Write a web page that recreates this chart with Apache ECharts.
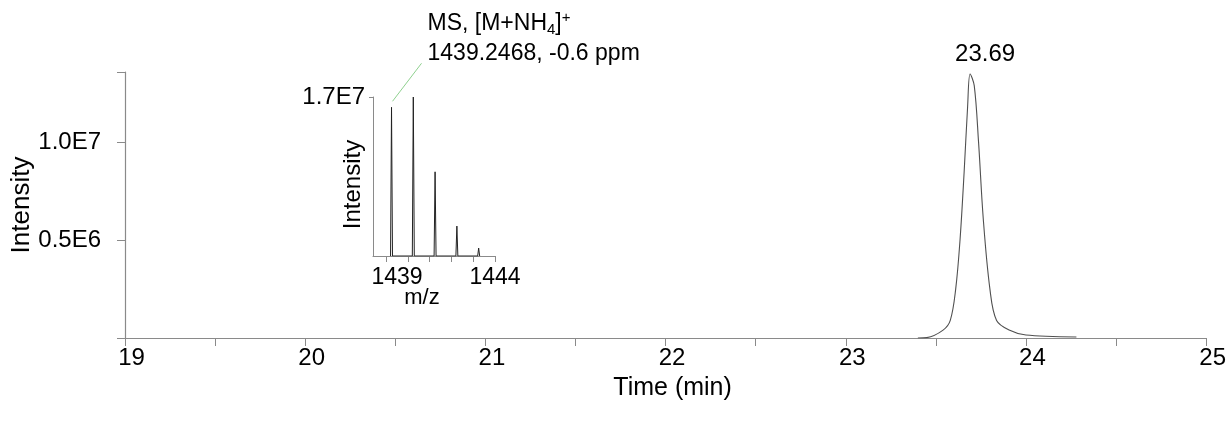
<!DOCTYPE html>
<html>
<head>
<meta charset="utf-8">
<script src="https://cdn.jsdelivr.net/npm/echarts@6/dist/echarts.min.js"></script>
<style>html,body{margin:0;padding:0;background:#fff}#c{width:1229px;height:422px}</style>
</head>
<body>
<div id="c"></div>
<script>
// Chromatogram (time in min, intensity)
const timeMin   = [23.40, 23.45, 23.54, 23.58, 23.61, 23.634, 23.657, 23.676, 23.69, 23.713, 23.737, 23.763, 23.80, 23.837, 23.91, 24.00, 24.28];
const intensity = [0, 0.02e6, 0.4e6, 0.9e6, 2.5e6, 5.0e6, 8.5e6, 11.8e6, 13.5e6, 12.9e6, 10.0e6, 6.1e6, 2.5e6, 0.9e6, 0.4e6, 0.15e6, 0.05e6];
const peakTime = 23.69;
const peakLabel = '23.69';
const xTicks = [19, 20, 21, 22, 23, 24, 25];
const yTickLabels = {5e6: '0.5E6', 1e7: '1.0E7'};

// Inset mass spectrum (m/z, intensity)
const mz    = [1439.25, 1440.25, 1441.25, 1442.25, 1443.25];
const msInt = [1.59e7, 1.70e7, 0.90e7, 0.32e7, 0.085e7];
const mzTicks = [1439, 1440, 1441, 1442, 1443, 1444];
const mzLabels = [1439, 1444];
const msMaxLabel = '1.7E7';
const annotLine1 = 'MS, [M+NH{sub|4}]{sup|+}';
const annotLine2 = '1439.2468, -0.6 ppm';

const FONT = '"Liberation Sans", Arial, sans-serif';
const AX = '#8a8a8a';

const chromData = timeMin.map((t, i) => [t, intensity[i]]);
const msData = [];
mz.forEach((m, i) => { msData.push([m - 0.045, 0], [m, msInt[i]], [m + 0.045, 0]); });

const chart = echarts.init(document.getElementById('c'), null, {renderer: 'canvas'});
const option = {
  animation: false,
  backgroundColor: '#fff',
  textStyle: {fontFamily: FONT, color: '#000'},
  grid: [
    {left: 125, top: 72, right: 22, bottom: 84, containLabel: false},
    {left: 373, top: 97, width: 122, height: 159, containLabel: false}
  ],
  xAxis: [
    {
      type: 'value', gridIndex: 0, min: 19, max: 25, interval: 0.5,
      name: 'Time (min)', nameLocation: 'middle', nameGap: 38, nameMoveOverlap: false,
      nameTextStyle: {fontSize: 25, color: '#000', fontFamily: FONT, padding: [0, 0, 0, 14]},
      axisLine: {show: true, lineStyle: {color: AX, width: 1.2}},
      axisTick: {show: true, length: 8, lineStyle: {color: AX}},
      axisLabel: {fontSize: 24, color: '#000', fontFamily: FONT, margin: 8, padding: [0, 0, 0, 13],
        formatter: v => (xTicks.indexOf(v) >= 0 ? String(v) : '')},
      splitLine: {show: false}
    },
    {
      type: 'value', gridIndex: 1, min: 1438.4, max: 1444,
      name: 'm/z', nameLocation: 'middle', nameGap: 31, nameMoveOverlap: false,
      nameTextStyle: {fontSize: 22, color: '#000', fontFamily: FONT, padding: [0, 24, 0, 0]},
      axisLine: {show: true, lineStyle: {color: AX, width: 1}},
      axisTick: {show: true, length: 6, customValues: mzTicks, lineStyle: {color: AX}},
      axisLabel: {show: true, customValues: mzLabels, fontSize: 23, color: '#000', fontFamily: FONT, margin: 10,
        formatter: v => (v === mzLabels[0] ? '{a|' + v + '}' : '{b|' + v + '}'),
        rich: {a: {fontSize: 23, fontFamily: FONT, padding: [0, 0, 0, 22]},
               b: {fontSize: 23, fontFamily: FONT, padding: [0, 0, 10, 0]}}},
      splitLine: {show: false}
    }
  ],
  yAxis: [
    {
      type: 'value', gridIndex: 0, min: 0, max: 13.6e6, interval: 5e6,
      name: 'Intensity', nameLocation: 'middle', nameGap: 90, nameRotate: 90, nameMoveOverlap: false,
      nameTextStyle: {fontSize: 26, color: '#000', fontFamily: FONT},
      axisLine: {show: true, lineStyle: {color: AX, width: 1.2}},
      axisTick: {show: true, length: 8, lineStyle: {color: AX}},
      axisLabel: {fontSize: 24, color: '#000', fontFamily: FONT, margin: 24,
        formatter: v => yTickLabels[v] || ''},
      splitLine: {show: false}
    },
    {
      type: 'value', gridIndex: 1, min: 0, max: 1.7e7,
      name: 'Intensity', nameLocation: 'middle', nameGap: 8, nameRotate: 90, nameMoveOverlap: false,
      nameTextStyle: {fontSize: 24, color: '#000', fontFamily: FONT, padding: [0, 16, 0, 0]},
      axisLine: {show: true, lineStyle: {color: AX, width: 1}},
      axisTick: {show: true, length: 4, customValues: [1.7e7], lineStyle: {color: AX}},
      axisLabel: {show: true, customValues: [1.7e7], fontSize: 24, color: '#000', fontFamily: FONT, margin: 8,
        formatter: () => msMaxLabel},
      splitLine: {show: false}
    }
  ],
  series: [
    {
      type: 'line', xAxisIndex: 0, yAxisIndex: 0, data: chromData,
      smooth: 0.35, showSymbol: false, symbol: 'none',
      lineStyle: {color: '#505050', width: 1.1},
      markPoint: {
        symbol: 'circle', symbolSize: 0,
        data: [{coord: [peakTime, intensity[timeMin.indexOf(peakTime)]]}],
        label: {show: true, position: 'top', distance: 8, offset: [15, 0], formatter: peakLabel,
          fontSize: 24, color: '#000', fontFamily: FONT}
      }
    },
    {
      type: 'line', xAxisIndex: 1, yAxisIndex: 1, data: msData,
      showSymbol: false, symbol: 'none',
      lineStyle: {color: '#222', width: 1}
    }
  ]
};
chart.setOption(option);

// annotation anchored to the first isotope peak of the inset
const apex = chart.convertToPixel({xAxisIndex: 1, yAxisIndex: 1}, [mz[0], msInt[0]]);
const lx0 = apex[0] + 1, ly0 = apex[1] - 6;
const lx1 = lx0 + 29, ly1 = ly0 - 38;
chart.setOption({
  graphic: [
    {type: 'line', shape: {x1: lx0, y1: ly0, x2: lx1, y2: ly1}, style: {stroke: '#8fd18f', lineWidth: 1}},
    {type: 'text', x: lx1 + 6, y: 9, style: {
      text: annotLine1 + '\n' + annotLine2, fill: '#000', font: '23px ' + FONT, lineHeight: 30,
      rich: {sub: {fontSize: 15, fontFamily: FONT, padding: [12, 0, 0, 0]},
             sup: {fontSize: 15, fontFamily: FONT, padding: [0, 0, 12, 0]}}
    }}
  ]
});
</script>
</body>
</html>
